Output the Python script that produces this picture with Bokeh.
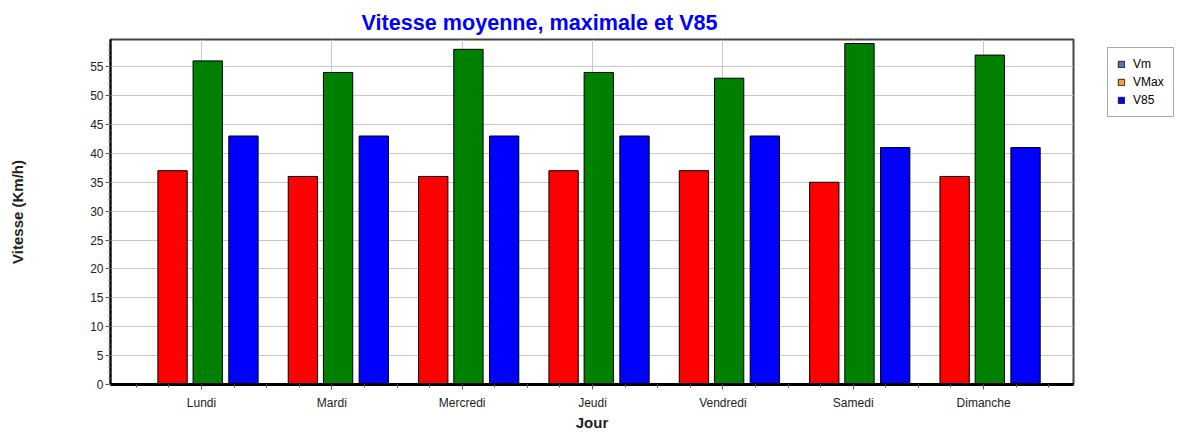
from bokeh.plotting import figure
from bokeh.layouts import row
from bokeh.models import (ColumnDataSource, Range1d, FixedTicker, Legend, LegendItem)
from bokeh.transform import dodge
from bokeh.embed import file_html
from bokeh.resources import INLINE

# ---- data ----
jours = ["Lundi", "Mardi", "Mercredi", "Jeudi", "Vendredi", "Samedi", "Dimanche"]
vm = [37, 36, 36, 37, 37, 35, 36]
vmax = [56, 54, 58, 54, 53, 59, 57]
v85 = [43, 43, 43, 43, 43, 41, 41]
y_ticks = [0, 5, 10, 15, 20, 25, 30, 35, 40, 45, 50, 55]
series_names = ["Vm", "VMax", "V85"]
legend_colors = ["#4F78BC", "#F7A035", "#0000FF"]

pos = [i + 0.5 for i in range(len(jours))]
src = ColumnDataSource(dict(x=pos, jour=jours, vm=vm, vmax=vmax, v85=v85))

FONT = "Liberation Sans"

p = figure(width=1099, height=435, output_backend="svg", toolbar_location=None,
           x_range=Range1d(-0.198, 7.19), y_range=Range1d(0, 59.7),
           min_border_left=110, min_border_right=26, min_border_top=39,
           min_border_bottom=51)

p.title.text = "Vitesse moyenne, maximale et V85"
p.title.text_color = "#0000FF"
p.title.text_font = FONT
p.title.text_font_size = "21.6px"
p.title.text_font_style = "bold"
p.title.align = "left"
p.title.offset = 251
p.title.standoff = 10

bw = 0.225
p.vbar(x=dodge("x", -0.222, range=p.x_range), top="vm", width=bw, source=src,
       fill_color="#FF0000", line_color="black", line_width=1)
p.vbar(x=dodge("x", 0.048, range=p.x_range), top="vmax", width=bw, source=src,
       fill_color="#008000", line_color="black", line_width=1)
p.vbar(x=dodge("x", 0.322, range=p.x_range), top="v85", width=bw, source=src,
       fill_color="#0000FF", line_color="black", line_width=1)

# x axis
xa = p.xaxis[0]
xa.ticker = FixedTicker(ticks=pos, minor_ticks=[v + d for v in pos for d in (-0.5, -0.25, 0.25, 0.5)])
xa.major_label_overrides = {v: j for v, j in zip(pos, jours)}
xa.axis_label = "Jour"
xa.axis_label_text_font = FONT
xa.axis_label_text_font_size = "15px"
xa.axis_label_text_font_style = "bold"
xa.axis_label_text_color = "#222222"
xa.axis_label_standoff = 1
xa.major_label_text_font = FONT
xa.major_label_text_font_size = "12px"
xa.major_label_text_color = "#222222"
xa.major_label_standoff = 6
xa.axis_line_width = 3
xa.axis_line_color = "black"
xa.major_tick_out = 5
xa.major_tick_in = 0
xa.minor_tick_out = 3
xa.minor_tick_in = 0
xa.major_tick_line_color = "#555555"
xa.minor_tick_line_color = "#555555"

# y axis
ya = p.yaxis[0]
ya.ticker = FixedTicker(ticks=y_ticks, minor_ticks=list(range(0, 60)))
ya.axis_label = "Vitesse (Km/h)"
ya.axis_label_text_font = FONT
ya.axis_label_text_font_size = "15px"
ya.axis_label_text_font_style = "bold"
ya.axis_label_text_color = "#222222"
ya.axis_label_standoff = 61
ya.major_label_text_font = FONT
ya.major_label_text_font_size = "12px"
ya.major_label_text_color = "#222222"
ya.major_label_standoff = 2
ya.axis_line_width = 2
ya.axis_line_color = "black"
ya.major_tick_out = 5
ya.major_tick_in = 0
ya.minor_tick_out = 2
ya.minor_tick_in = 0
ya.major_tick_line_color = "#555555"
ya.minor_tick_line_color = "#777777"

p.xgrid.grid_line_color = "#C8C8C8"
p.ygrid.grid_line_color = "#C8C8C8"
p.xgrid.ticker = xa.ticker
p.ygrid.ticker = ya.ticker

p.outline_line_color = "#444444"
p.outline_line_width = 2
p.background_fill_color = "white"
p.border_fill_color = "white"

# ---- legend panel (separate small figure to the right) ----
q = figure(width=85, height=435, output_backend="svg", toolbar_location=None,
           x_range=Range1d(0, 1), y_range=Range1d(0, 1),
           x_axis_type=None, y_axis_type=None,
           min_border_left=0, min_border_right=0, min_border_top=39,
           min_border_bottom=51)
q.outline_line_color = None
q.grid.visible = False
q.background_fill_color = "white"
q.border_fill_color = "white"

nan = float("nan")
swatch_src = ColumnDataSource(dict(x=[nan], top=[nan]))
items, shadow_items = [], []
for name, col in zip(series_names, legend_colors):
    r = q.vbar(x="x", top="top", width=0.1, source=swatch_src,
               fill_color=col, line_color="#222222")
    items.append(LegendItem(label=name, renderers=[r]))
    rs = q.vbar(x="x", top="top", width=0.1, source=swatch_src,
                fill_alpha=0, line_alpha=0)
    shadow_items.append(LegendItem(label=" ", renderers=[rs]))

common = dict(glyph_width=8, glyph_height=8,
              label_text_font=FONT, label_text_font_size="12px",
              label_height=14, label_width=29, label_standoff=8,
              spacing=4, padding=9, location="top_left")
shadow = Legend(items=shadow_items, margin=11,
                border_line_color=None, background_fill_color="#A8A8A8",
                background_fill_alpha=1, label_text_alpha=0, **common)
legend = Legend(items=items, margin=8,
                border_line_color="#555555", border_line_width=1,
                background_fill_color="white", background_fill_alpha=1,
                label_text_color="black", **common)
q.add_layout(shadow, "center")
q.add_layout(legend, "center")

layout = row(p, q, spacing=0)
open("out.html", "w").write(file_html(layout, INLINE))
